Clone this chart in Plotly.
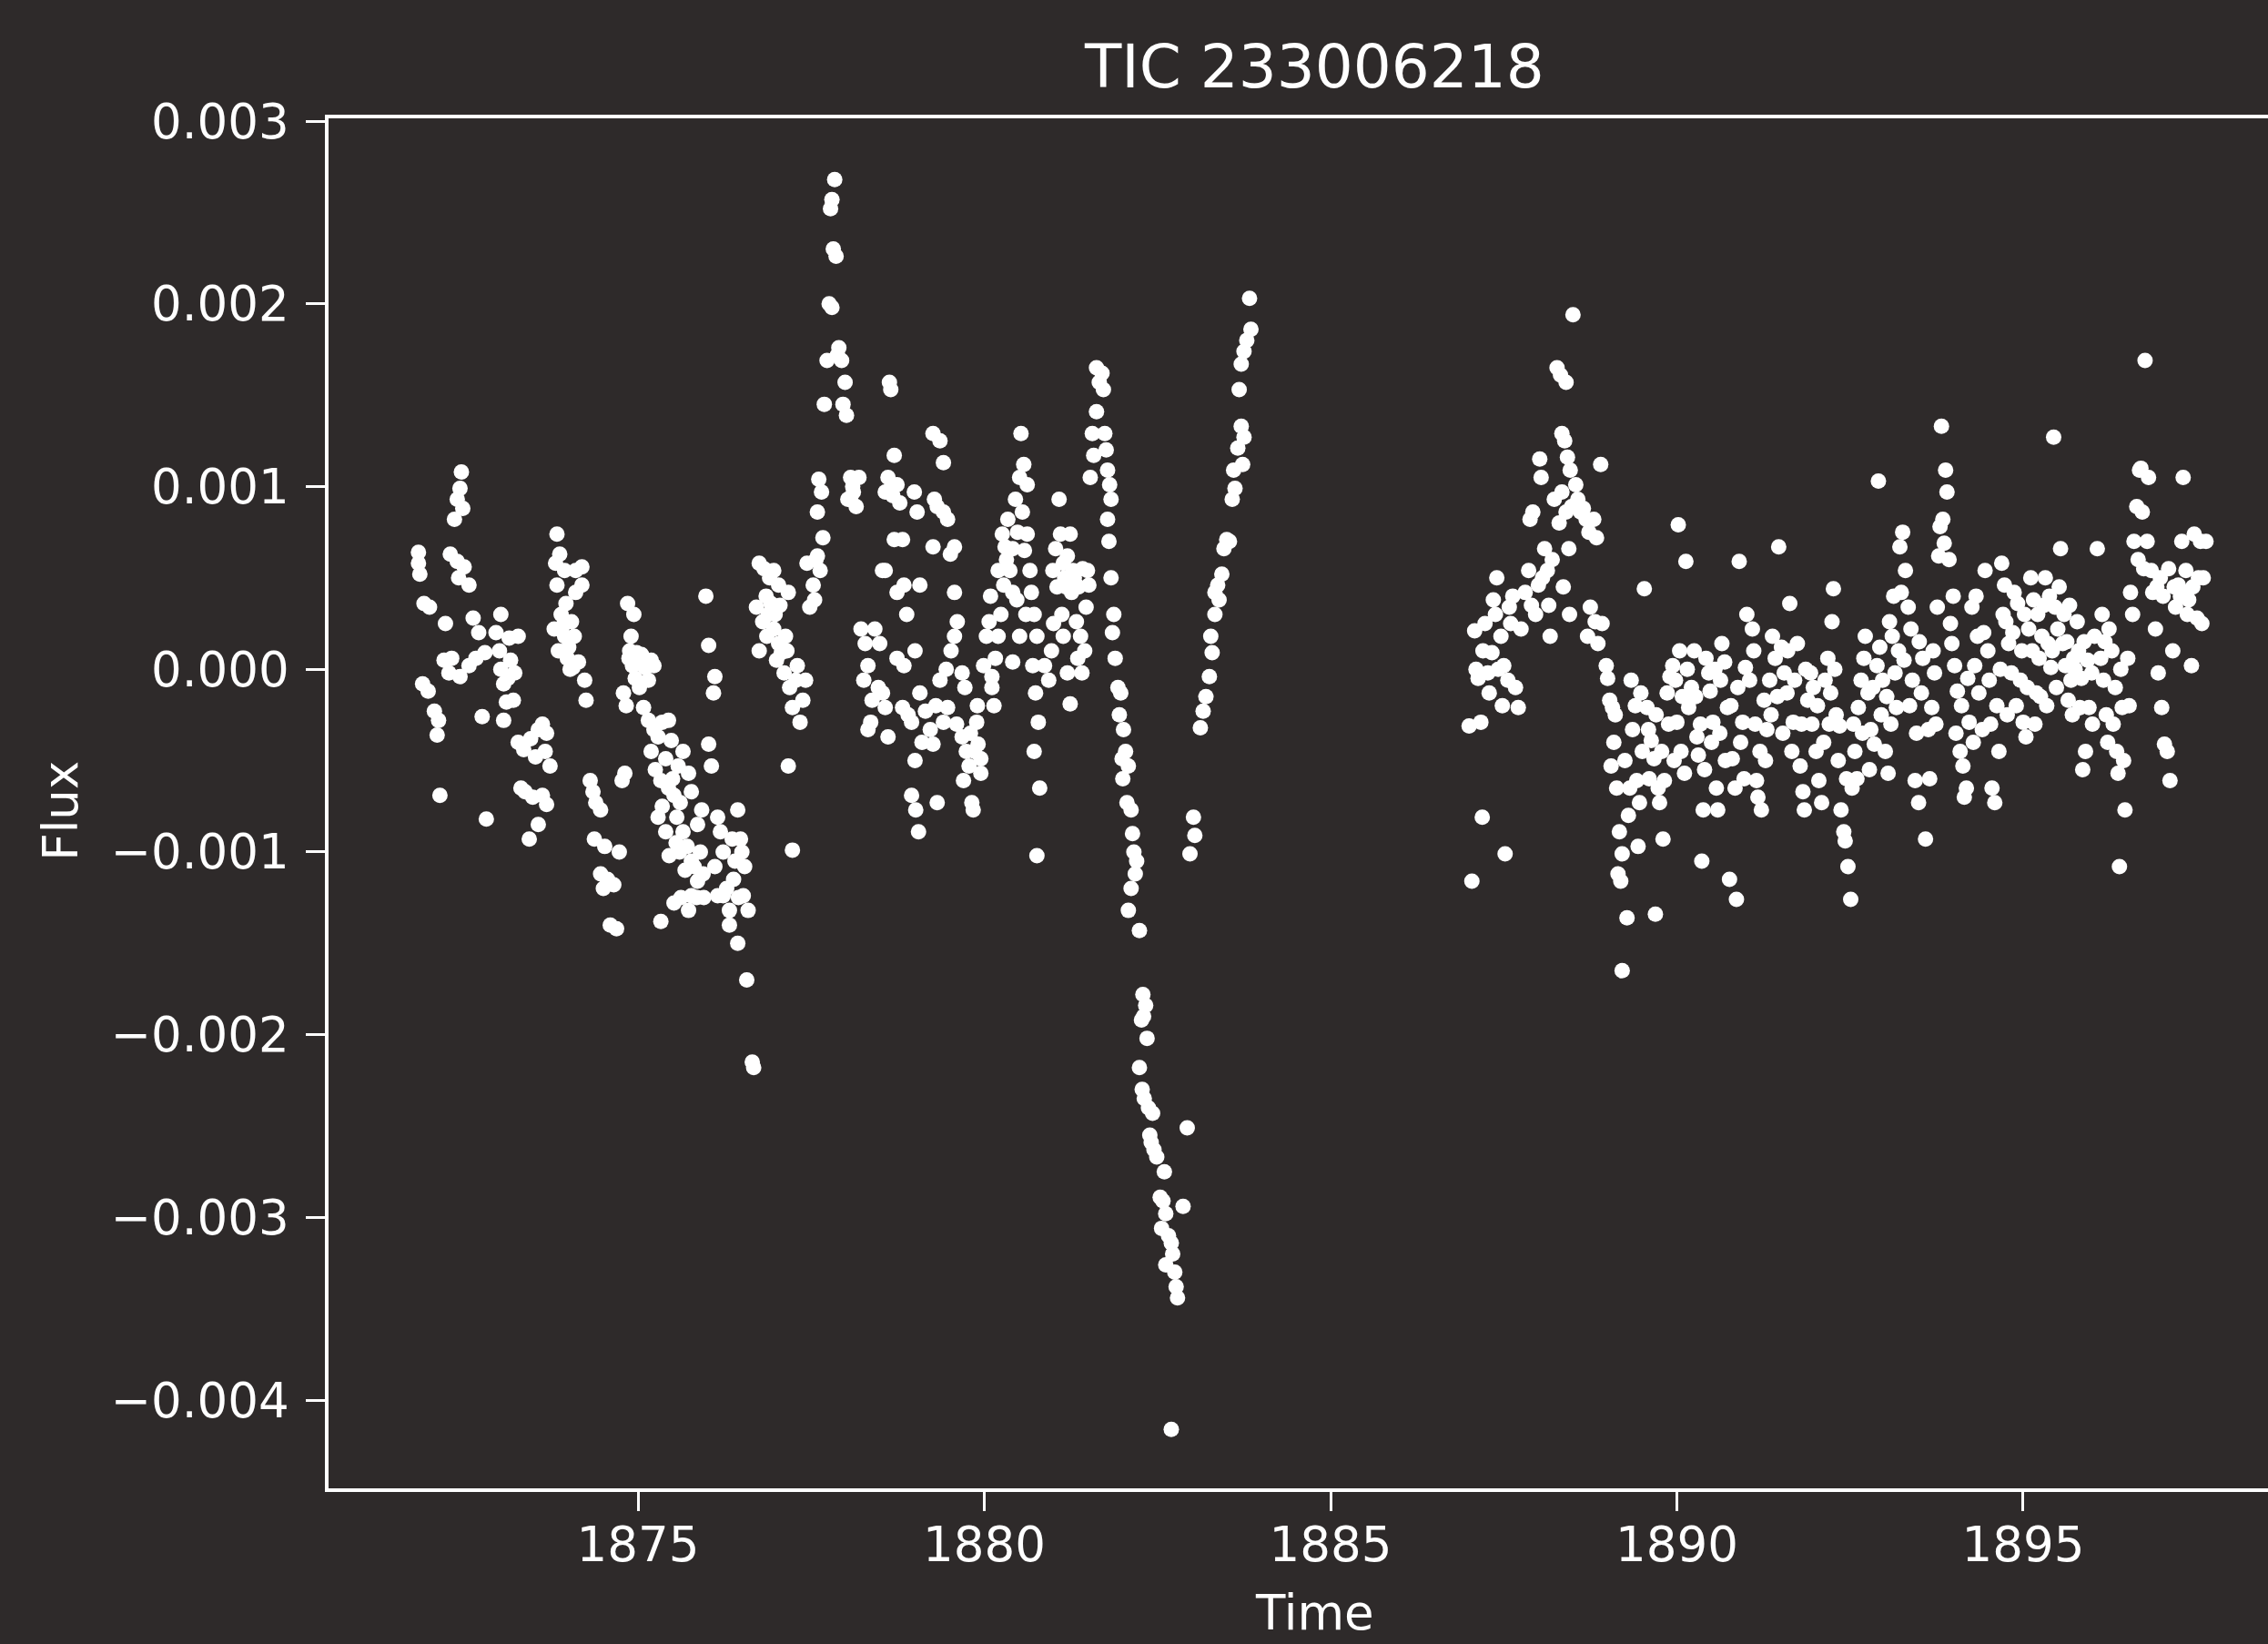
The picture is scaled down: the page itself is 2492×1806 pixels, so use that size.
import plotly.graph_objects as go

# ---- Orbit 1 (time in BTJD days, flux in parts-per-thousand) ----
time_orbit1 = [
    1871.83,1871.83,1871.85,1871.91,1871.99,1871.89,1871.97,1872.06,1872.12,1872.10,1872.14,1872.22,1872.20,1872.31,1872.39,1872.45,1872.43,1872.47,1872.35,1872.29,1872.39,1872.49,1872.41,1872.56,1872.43,1872.56,1872.66,1872.70,1872.79,1872.75,1872.81,1872.27,1872.62,
    1872.95,1873.02,1873.00,1873.02,1873.06,1873.10,1873.06,1873.14,1873.27,1873.20,1873.27,1873.35,1873.31,1873.37,1873.48,1873.43,1873.56,1873.62,1873.68,1873.66,1873.73,1873.62,1873.68,1873.56,1873.16,1873.22,1873.12,1873.45,1873.52,
    1873.83,1873.87,1873.81,1873.94,1873.83,1873.89,1873.79,1873.94,1873.85,1873.98,1874.04,1874.08,1874.10,1874.19,1874.19,1874.10,1874.23,1874.14,1874.06,1873.92,1874.00,1874.02,1873.96,
    1874.25,1874.31,1874.35,1874.39,1874.46,1874.37,1874.52,1874.46,1874.56,1874.50,1874.65,1874.60,1874.69,1874.73,1874.77,1874.81,1874.79,1874.87,1874.85,1874.94,1874.90,1874.98,1874.92,1875.02,1875.10,1875.02,1875.08,1875.15,1875.23,1875.19,1874.83,1874.96,1874.88,1875.05,
    1875.15,1875.23,1875.19,1875.29,1875.35,1875.44,1875.48,1875.40,1875.33,1875.44,1875.35,1875.29,1875.40,1875.52,1875.61,1875.56,1875.65,1875.33,1875.52,1875.58,1875.65,1875.73,1875.77,1875.71,1875.77,1875.81,1875.86,1875.77,1875.73,1875.90,1875.94,1875.86,1875.92,1875.25,1875.50,1875.60,1875.68,1875.45,1875.55,1875.62,1875.85,1875.95,
    1875.98,1876.02,1876.11,1876.09,1876.06,1876.02,1876.15,1876.19,1876.23,1876.11,1876.15,1876.23,1876.32,1876.36,1876.40,1876.44,1876.48,1876.54,1876.52,1876.59,1876.57,1876.65,1876.67,1876.44,1876.32,1876.28,1876.45,1876.50,1876.38,
    1876.75,1876.82,1876.71,1876.80,1876.75,1876.86,1876.90,1876.96,1877.03,1876.92,1876.88,1876.96,1877.03,1877.07,1877.13,1877.17,1877.11,1877.19,1877.23,1877.28,1877.34,1877.17,1877.23,1877.38,1877.42,1877.48,1877.53,1877.44,1877.59,1877.63,1877.55,1876.85,1876.98,1877.05,1877.00,1877.15,1877.30,
    1877.61,1877.65,1877.59,1877.69,1877.73,1877.76,1877.80,1877.82,1877.86,1877.78,1877.80,1877.84,1877.90,1877.94,1877.99,1877.96,1878.01,1878.07,1878.11,1878.15,1878.07,1878.19,1878.22,1878.28,1878.26,1878.32,1878.36,1878.38,1878.32,1877.88,1878.03,1878.10,1877.67,1877.57,
    1878.42,1878.49,1878.53,1878.57,1878.61,1878.63,1878.65,1878.70,1878.74,1878.78,1878.70,1878.82,1878.57,1878.74,1878.84,1878.47,1878.53,1878.57,1878.61,1878.74,1878.84,1878.82,1878.90,1878.95,1878.95,1879.01,1879.05,1878.99,1879.03,1879.07,1879.07,1879.15,1878.66,1878.68,1878.88,1879.00,1879.10,1879.00,
    1879.26,1879.36,1879.41,1879.28,1879.32,1879.41,1879.47,1879.26,1879.51,1879.57,1879.57,1879.22,1879.26,1879.32,1879.41,1879.47,1879.36,1879.57,1879.61,1879.68,1879.72,1879.68,1879.74,1879.78,1879.70,1879.82,1879.84,1879.89,1879.91,1879.95,1879.95,1879.30,1879.45,1879.52,1879.80,1879.86,1879.90,1879.60,
    1879.99,1880.03,1880.07,1880.11,1880.16,1880.20,1880.24,1880.26,1880.30,1880.34,1880.41,1880.37,1880.28,1880.41,1880.45,1880.51,1880.53,1880.57,1880.62,1880.55,1880.62,1880.66,1880.68,1880.72,1880.76,1880.70,1880.74,1880.78,1880.72,1880.80,1880.76,1880.11,1880.20,1880.09,1880.41,1880.51,1880.32,1880.48,1880.58,1880.47,1880.60,1880.14,
    1880.87,1880.93,1880.97,1880.99,1881.03,1881.08,1881.10,1881.14,1881.16,1881.20,1881.24,1881.28,1881.26,1881.33,1881.35,1881.24,1881.20,1881.14,1881.39,1881.45,1881.49,1881.53,1881.58,1881.56,1881.62,1881.66,1881.62,1881.70,1881.41,1881.47,1881.51,1881.05,1881.18,1881.30,1881.36,1881.42,1881.12,1881.00,
    1881.72,1881.74,1881.78,1881.81,1881.83,1881.78,1881.83,1881.87,1881.89,1881.93,1881.97,1882.01,1882.04,1881.99,1882.08,1882.06,1882.12,1882.16,1882.18,1882.12,1882.08,1882.24,1882.29,1882.33,1882.27,1882.35,1882.24,1882.31,1882.37,1882.43,1882.45,1882.41,1882.49,1881.76,1881.80,1881.85,1881.95,1882.00,1882.14,1882.20,1882.30,1882.28,1882.39,
    1882.54,1882.58,1882.62,1882.56,1882.66,1882.70,1882.62,1882.75,1882.79,1882.87,1882.93,1882.70,1883.02,1883.04,1882.97,1883.12,1883.16,1883.20,1883.25,1883.29,1883.27,1883.33,1882.60,1882.72,1882.77,
    1883.33,1883.37,1883.43,1883.39,1883.46,1883.50,1883.54,1883.58,1883.62,1883.60,1883.66,1883.71,1883.75,1883.73,1883.68,1883.71,1883.75,1883.79,1883.85,1883.83,
]
flux_orbit1_ppt = [
    0.64,0.58,0.52,0.36,0.34,-0.08,-0.12,-0.23,-0.28,-0.36,-0.69,0.25,0.05,0.06,0.93,1.08,0.99,0.88,0.82,0.63,0.59,0.56,0.50,0.46,-0.04,0.02,0.06,0.20,0.09,-0.26,-0.82,-0.02,0.28,
    0.20,0.30,0.10,0.00,-0.08,-0.18,-0.28,0.17,0.18,-0.17,-0.40,-0.44,-0.65,-0.67,-0.70,-0.93,-0.33,-0.30,-0.35,-0.45,-0.53,-0.69,-0.74,-0.85,0.05,-0.02,-0.05,-0.38,-0.48,
    0.74,0.63,0.58,0.54,0.46,0.30,0.22,0.18,0.10,0.06,0.26,0.18,0.54,0.46,0.56,0.42,-0.06,0.04,0.01,0.24,0.12,0.00,0.36,
    -0.17,-0.61,-0.67,-0.73,-0.77,-0.93,-0.97,-1.12,-1.15,-1.20,-1.18,-1.40,-1.42,-1.00,-0.61,-0.57,-0.13,0.06,0.36,0.30,0.18,0.09,0.02,0.04,0.01,-0.10,-0.21,-0.06,0.02,0.05,-0.20,-0.05,0.10,0.08,
    -0.28,-0.33,-0.45,-0.37,-0.29,-0.28,-0.39,-0.49,-0.61,-0.65,-0.75,-0.81,-0.89,-0.69,-0.73,-0.81,-0.89,-1.38,-1.28,-0.53,-0.45,-0.57,-0.67,-0.97,-1.05,-1.08,-1.16,-1.24,-1.32,-1.00,-1.12,-0.85,-0.77,-0.55,-0.60,-1.00,-1.10,-1.02,-0.95,-1.25,-1.25,-1.25,
    0.40,0.13,-0.04,-0.13,-0.53,-0.41,-0.81,-0.89,-1.00,-1.08,-1.24,-1.24,-1.40,-0.93,-1.05,-0.77,-0.93,-1.08,-1.24,-1.32,-1.70,-2.15,-2.18,-1.50,-1.32,-1.20,-1.25,-1.00,-1.15,
    0.58,0.55,0.34,0.26,0.10,0.18,0.50,0.54,0.46,0.36,0.30,0.22,0.14,0.09,0.18,0.42,-0.02,-0.10,-0.21,-0.06,-0.29,-0.53,-0.99,-0.17,-0.06,0.34,0.46,0.58,0.62,0.54,0.38,0.40,0.30,0.35,0.05,0.10,0.02,
    1.04,0.97,0.86,1.45,1.69,2.00,1.98,2.30,2.26,2.52,2.57,2.68,1.76,1.69,1.57,1.45,1.39,1.05,0.97,0.89,0.93,1.05,0.22,0.14,-0.06,-0.33,-0.29,-0.17,0.02,1.72,0.93,1.00,0.72,0.60,
    0.22,0.14,0.54,0.97,1.05,1.57,1.53,1.17,1.01,0.91,0.71,0.71,0.54,0.42,0.46,-0.10,-0.13,-0.21,-0.37,0.06,0.02,-0.21,-0.25,-0.29,-0.69,-0.77,-0.89,0.97,0.86,0.46,-0.13,-0.23,1.00,0.95,0.30,0.10,-0.40,-0.50,
    1.29,1.25,1.13,0.93,0.89,0.86,0.82,0.67,0.63,0.67,0.42,-0.33,-0.41,-0.73,-0.29,-0.21,-0.06,0.18,0.26,-0.02,-0.10,-0.37,-0.45,-0.53,-0.61,-0.73,-0.77,-0.29,-0.41,-0.49,-0.57,-0.20,0.00,0.10,-0.35,-0.45,-0.20,-0.30,
    0.02,0.18,0.26,-0.10,0.06,0.18,0.30,0.74,0.67,0.82,0.66,0.54,0.46,0.42,0.93,1.05,1.29,1.12,1.01,0.86,0.74,0.54,0.42,0.30,0.18,0.02,-0.13,-0.29,-0.45,-0.65,-1.02,-0.04,0.54,0.40,0.04,0.18,0.60,0.75,0.65,0.38,0.30,-0.20,
    0.02,-0.06,0.10,0.54,0.66,0.93,0.74,0.58,0.50,0.62,0.74,0.54,0.42,0.26,0.06,-0.19,-0.02,0.18,0.18,0.10,0.54,1.05,1.17,1.29,1.41,1.57,1.65,1.62,-0.02,0.34,0.46,0.45,0.45,0.50,0.45,0.55,0.30,0.25,
    1.53,1.29,1.09,1.01,0.93,0.82,0.50,0.30,0.06,-0.10,-0.13,-0.33,-0.45,-0.49,-0.53,-0.73,-0.77,-1.00,-1.12,-1.20,-1.32,-1.43,-1.78,-1.84,-1.92,-2.02,-2.18,-2.35,-2.40,-2.43,-2.63,-2.59,-2.67,1.20,0.70,0.20,-0.25,-0.60,-0.90,-1.05,-1.90,-2.30,-2.55,
    -2.89,-2.91,-2.98,-3.06,-3.10,-3.14,-3.26,-3.30,-3.44,-2.94,-2.51,-4.16,-0.81,-0.91,-1.01,-0.32,-0.23,-0.15,-0.04,0.09,0.18,0.30,-2.75,-3.20,-3.38,
    0.42,0.46,0.52,0.38,0.66,0.71,0.70,0.93,0.99,1.09,1.21,1.33,1.27,1.12,1.53,1.67,1.74,1.80,1.86,2.03,
]

# ---- Orbit 2 ----
time_orbit2 = [
    1887.00,1887.04,1887.08,1887.13,1887.17,1887.19,1887.23,1887.27,1887.29,1887.33,1887.35,1887.40,1887.46,1887.50,1887.52,1887.56,1887.58,1887.63,1887.67,1887.71,1887.10,1887.20,1887.38,1887.42,1887.60,1887.48,
    1887.75,1887.81,1887.86,1887.88,1887.92,1887.96,1888.00,1888.02,1888.04,1888.09,1888.13,1888.17,1888.23,1888.27,1888.32,1888.40,1888.34,1888.38,1888.42,1888.46,1888.50,1888.34,1888.40,1888.44,1888.48,1888.54,1887.90,1888.06,1888.15,1888.20,1888.30,1888.36,1888.45,
    1888.57,1888.61,1888.65,1888.69,1888.73,1888.80,1888.84,1888.90,1888.75,1888.82,1888.71,1888.86,1888.92,1888.98,1889.03,1889.07,1889.11,1889.05,1889.13,1889.17,1889.21,1889.15,1889.19,1889.21,1889.28,1889.32,1889.36,1889.34,1889.00,1889.09,1889.25,1889.30,1889.40,
    1889.42,1889.46,1889.44,1889.48,1889.53,1889.57,1889.59,1889.63,1889.67,1889.69,1889.73,1889.75,1889.80,1889.82,1889.86,1889.90,1889.94,1889.98,1890.00,1890.02,1890.06,1890.11,1890.13,1890.17,1890.21,1889.50,1889.60,1889.70,1889.78,1889.88,1890.04,1890.08,1890.15,1889.96,
    1890.25,1890.29,1890.31,1890.36,1890.38,1890.42,1890.46,1890.48,1890.52,1890.57,1890.59,1890.63,1890.65,1890.69,1890.73,1890.76,1890.80,1890.84,1890.86,1890.88,1890.90,1890.95,1890.99,1891.01,1890.27,1890.34,1890.40,1890.50,1890.55,1890.62,1890.70,1890.78,1890.92,1890.97,
    1891.05,1891.09,1891.11,1891.15,1891.17,1891.22,1891.26,1891.30,1891.34,1891.38,1891.42,1891.47,1891.51,1891.55,1891.59,1891.63,1891.68,1891.70,1891.74,1891.78,1891.82,1891.84,1891.89,1891.13,1891.20,1891.28,1891.36,1891.45,1891.53,1891.60,1891.66,1891.80,1891.86,
    1891.93,1891.97,1892.01,1892.05,1892.09,1892.14,1892.18,1892.22,1892.24,1892.26,1892.30,1892.35,1892.37,1892.41,1892.43,1892.47,1892.51,1892.53,1892.57,1892.62,1892.66,1892.70,1892.72,1891.95,1892.03,1892.12,1892.20,1892.28,1892.33,1892.45,1892.55,1892.60,1892.68,
    1892.76,1892.80,1892.85,1892.89,1892.91,1892.93,1892.97,1893.01,1893.05,1893.07,1893.11,1893.15,1893.17,1893.22,1893.24,1893.26,1893.30,1893.34,1893.38,1893.40,1893.44,1893.49,1893.53,1893.55,1892.78,1892.83,1892.95,1893.03,1893.09,1893.13,1893.20,1893.28,1893.36,1893.46,1893.50,
    1893.59,1893.63,1893.68,1893.72,1893.76,1893.78,1893.80,1893.84,1893.86,1893.82,1893.88,1893.90,1893.95,1893.97,1894.01,1894.05,1894.09,1894.13,1894.18,1894.22,1894.26,1894.30,1894.34,1894.36,1893.65,1893.70,1893.74,1893.93,1893.99,1894.03,1894.11,1894.15,1894.20,1894.28,1894.32,
    1894.41,1894.45,1894.49,1894.51,1894.55,1894.59,1894.65,1894.69,1894.73,1894.75,1894.79,1894.83,1894.87,1894.92,1894.96,1895.00,1895.04,1895.08,1895.11,1895.15,1895.19,1895.23,1894.43,1894.53,1894.62,1894.67,1894.71,1894.77,1894.85,1894.90,1894.98,1895.02,1895.06,1895.13,1895.17,1895.21,
    1895.27,1895.32,1895.36,1895.40,1895.44,1895.46,1895.50,1895.54,1895.57,1895.61,1895.65,1895.69,1895.73,1895.78,1895.82,1895.86,1895.90,1895.95,1895.99,1896.03,1896.07,1895.25,1895.30,1895.34,1895.38,1895.42,1895.48,1895.52,1895.59,1895.63,1895.67,1895.71,1895.75,1895.80,1895.84,1895.88,1895.93,1896.00,
    1896.12,1896.16,1896.20,1896.24,1896.28,1896.33,1896.35,1896.37,1896.39,1896.43,1896.47,1896.51,1896.55,1896.60,1896.64,1896.68,1896.72,1896.76,1896.81,1896.85,1896.87,1896.14,1896.18,1896.22,1896.30,1896.41,1896.45,1896.53,1896.58,1896.66,1896.70,1896.74,1896.79,
    1896.91,1896.95,1897.00,1897.04,1897.08,1897.12,1897.16,1897.20,1897.24,1897.29,1897.31,1897.35,1897.39,1897.43,1897.47,1897.51,1897.56,1897.60,1897.64,1896.93,1896.98,1897.02,1897.10,1897.18,1897.27,1897.33,1897.37,1897.45,1897.53,1897.58,
]
flux_orbit2_ppt = [
    -0.31,-1.16,0.21,-0.05,-0.29,-0.81,0.25,-0.02,-0.13,0.09,0.38,0.50,0.18,0.02,-1.01,-0.06,0.34,0.40,-0.10,-0.21,0.00,0.10,0.30,0.00,0.25,-0.20,
    0.22,0.42,0.54,0.82,0.86,0.30,0.46,1.15,1.05,0.66,0.54,0.18,0.93,1.65,1.61,1.57,1.29,1.25,1.16,1.09,1.94,0.97,0.86,0.66,0.89,1.01,0.35,0.50,0.35,0.60,0.80,0.45,0.30,
    0.93,0.86,0.88,0.82,0.75,0.82,0.72,1.12,0.34,0.26,0.18,0.14,0.25,0.02,-0.17,-0.21,-0.25,-0.53,-0.65,-0.89,-1.01,-1.12,-1.16,-1.65,-1.36,-0.65,-0.33,-0.06,-0.05,-0.40,-0.50,-0.80,-0.20,
    -0.61,-0.73,-0.97,-0.13,0.44,-0.21,-0.33,-0.39,-0.49,-1.34,-0.65,-0.73,-0.93,-0.61,-0.13,-0.04,0.02,-0.06,-0.29,0.79,-0.45,-0.57,0.59,-0.21,-0.10,-0.45,-0.60,-0.25,-0.45,-0.30,0.10,-0.15,0.00,-0.50,
    0.10,-0.37,-0.47,-1.05,-0.77,0.06,-0.02,-0.12,-0.29,-0.65,-0.77,-0.06,0.14,0.04,-0.21,-1.15,-0.49,-0.65,-1.26,-0.10,0.59,-0.29,0.01,0.30,-0.15,-0.30,-0.55,-0.40,0.00,-0.35,-0.50,-0.20,-0.40,-0.60,
    -0.06,0.22,0.10,-0.61,-0.70,-0.77,-0.17,-0.33,-0.06,0.18,0.06,0.67,0.12,-0.02,-0.13,0.36,-0.29,-0.06,0.14,-0.53,-0.67,-0.77,-0.17,-0.30,-0.45,-0.50,-0.25,-0.15,-0.35,0.10,-0.45,-0.30,0.00,
    -0.02,-0.10,-0.45,-0.61,-0.73,-0.06,0.06,-0.13,0.26,0.44,-0.25,-0.31,-0.77,-0.89,-0.94,-1.08,-1.26,-0.65,-0.45,-0.21,-0.06,0.06,0.18,-0.30,-0.20,-0.40,-0.30,0.00,-0.50,-0.60,-0.30,-0.60,-0.35,
    -0.13,-0.33,-0.41,0.02,1.03,0.12,-0.06,-0.45,-0.57,0.26,0.18,-0.02,-0.21,0.67,0.42,0.75,0.54,0.34,0.22,-0.06,-0.61,-0.73,-0.13,0.06,-0.55,-0.10,-0.25,-0.15,-0.30,0.40,0.10,0.05,-0.20,-0.35,0.15,
    -0.93,-0.33,-0.21,-0.02,0.34,0.62,0.78,0.82,0.69,1.33,1.09,0.97,0.25,0.14,0.02,-0.12,-0.45,-0.53,-0.65,-0.29,0.34,0.02,0.18,-0.13,-0.60,0.10,-0.30,0.60,0.40,-0.35,-0.20,-0.70,-0.05,-0.40,0.40,
    -0.33,0.54,0.10,-0.06,-0.65,-0.73,-0.45,0.58,0.46,0.26,0.14,-0.02,0.42,0.36,-0.06,-0.29,-0.37,0.22,0.50,0.38,-0.13,0.06,0.20,-0.30,-0.20,0.00,0.30,-0.25,0.20,-0.20,0.10,0.30,-0.10,0.10,-0.30,0.30,
    0.18,0.50,0.14,0.01,1.27,0.34,0.22,0.66,0.14,0.02,-0.17,-0.06,0.06,0.26,-0.21,-0.55,-0.45,-0.21,-0.02,0.18,0.66,-0.15,0.35,-0.20,0.40,0.10,-0.10,0.45,0.30,0.15,0.35,-0.25,0.00,0.10,-0.05,0.15,0.05,-0.30,
    0.06,-0.06,-0.25,0.22,0.10,-0.10,-0.45,-0.57,-1.08,-0.21,-0.77,0.06,0.42,0.70,0.89,1.09,0.86,1.69,1.05,0.54,0.42,0.30,0.15,-0.40,-0.30,0.00,-0.50,-0.20,0.30,0.60,1.10,0.55,0.70,
    0.22,-0.02,-0.21,-0.41,-0.45,-0.61,0.10,0.34,0.46,0.70,1.05,0.54,0.38,0.02,0.74,0.28,0.70,0.50,0.70,0.45,0.50,0.40,0.55,0.45,0.40,0.42,0.30,0.45,0.50,0.25,
]

flux_tick_values = [0.003, 0.002, 0.001, 0.0, -0.001, -0.002, -0.003, -0.004]
flux_tick_labels = ["0.003", "0.002", "0.001", "0.000", "\u22120.001", "\u22120.002", "\u22120.003", "\u22120.004"]
time_tick_values = [1875, 1880, 1885, 1890, 1895]
time_tick_labels = ["1875", "1880", "1885", "1890", "1895"]

assert len(time_orbit1) == len(flux_orbit1_ppt), (len(time_orbit1), len(flux_orbit1_ppt))
assert len(time_orbit2) == len(flux_orbit2_ppt), (len(time_orbit2), len(flux_orbit2_ppt))

time = time_orbit1 + time_orbit2
flux = [v * 1e-3 for v in flux_orbit1_ppt + flux_orbit2_ppt]

BG = "#2e2a2a"
FG = "#ffffff"
FONT = "DejaVu Sans"

fig = go.Figure(
    go.Scatter(
        x=time, y=flux, mode="markers",
        marker=dict(color=FG, size=17, line=dict(width=0)),
        showlegend=False, hoverinfo="skip",
    )
)

fig.update_layout(
    width=2492, height=1806,
    paper_bgcolor=BG, plot_bgcolor=BG,
    margin=dict(l=361, r=0, t=130, b=171, pad=0),
    font=dict(family=FONT, color=FG, size=53),
    title=dict(
        text="TIC 233006218", x=0.5084, xref="paper", xanchor="center",
        y=1 - 73 / 1806, yref="container", yanchor="middle",
        font=dict(family=FONT, size=66, color=FG),
    ),
    annotations=[
        dict(text="Time", x=0.5084, xref="paper", y=-0.0910, yref="paper",
             xanchor="center", yanchor="middle", showarrow=False,
             font=dict(family=FONT, size=53, color=FG)),
        dict(text="Flux", x=-0.1380, xref="paper", y=0.4944, yref="paper",
             xanchor="center", yanchor="middle", showarrow=False, textangle=-90,
             font=dict(family=FONT, size=53, color=FG)),
    ],
)

fig.update_xaxes(
    range=[1870.532, 1898.535],
    tickmode="array", tickvals=time_tick_values, ticktext=time_tick_labels,
    ticks="outside", ticklen=21, tickwidth=3, tickcolor=FG,
    showline=True, linecolor=FG, linewidth=3.5, mirror=True,
    showgrid=False, zeroline=False, ticklabelstandoff=-8,
    tickfont=dict(family=FONT, size=53, color=FG),
)
fig.update_yaxes(
    range=[-0.004483, 0.003015],
    tickmode="array", tickvals=flux_tick_values, ticktext=flux_tick_labels,
    ticks="outside", ticklen=21, tickwidth=3, tickcolor=FG,
    showline=True, linecolor=FG, linewidth=3.5, mirror=False,
    showgrid=False, zeroline=False, ticklabelstandoff=8,
    tickfont=dict(family=FONT, size=53, color=FG),
)

fig.write_html("out.html")
